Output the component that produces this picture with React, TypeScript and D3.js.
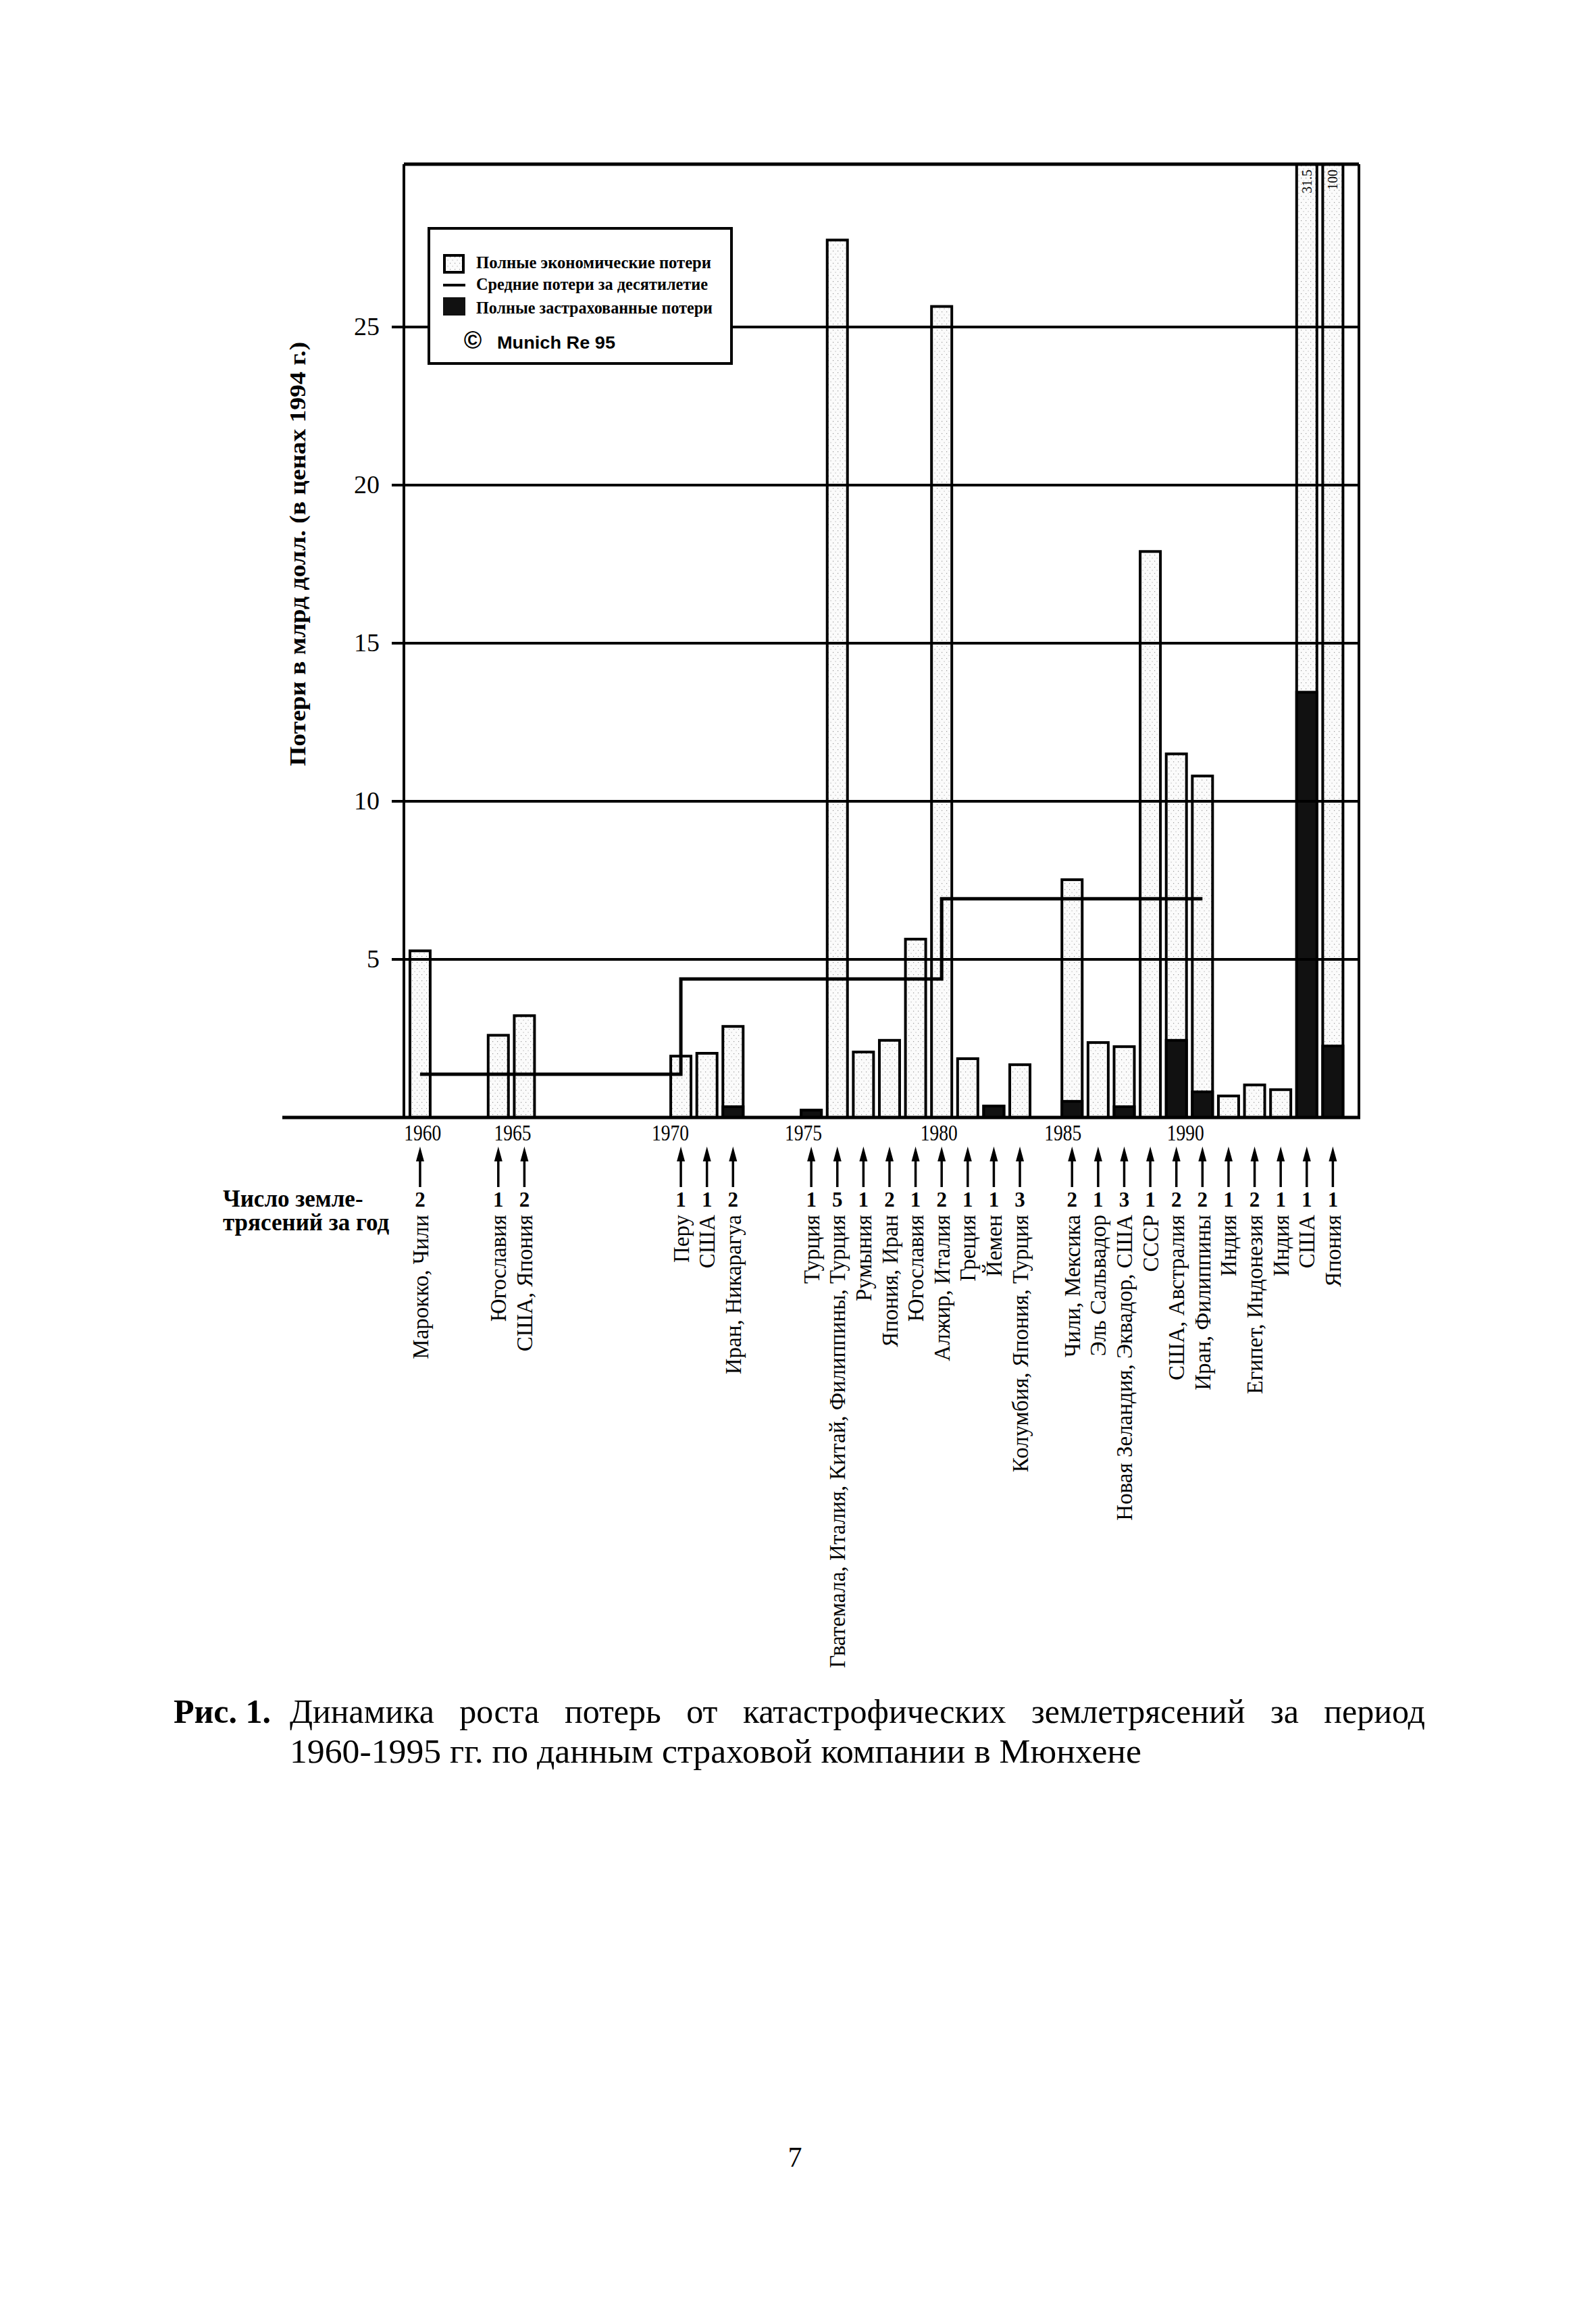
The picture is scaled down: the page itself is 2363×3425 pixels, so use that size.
import React, { useRef, useLayoutEffect } from 'react';
import * as d3 from 'd3';

// Earthquake losses, bn USD (1994 prices), Munich Re 95
const years = [1960, 1963, 1964, 1970, 1971, 1972, 1975, 1976, 1977, 1978, 1979, 1980, 1981, 1982, 1983, 1985, 1986, 1987, 1988, 1989, 1990, 1991, 1992, 1993, 1994, 1995];
const totalLoss = [5.27, 2.6, 3.22, 1.94, 2.03, 2.88, 0.23, 27.75, 2.07, 2.44, 5.64, 25.65, 1.86, 0.36, 1.67, 7.52, 2.37, 2.24, 17.9, 11.5, 10.8, 0.68, 1.03, 0.88, 31.5, 100];
const insuredLoss = [0, 0, 0, 0, 0, 0.34, 0.23, 0, 0, 0, 0, 0, 0, 0.36, 0, 0.51, 0, 0.34, 0, 2.44, 0.81, 0, 0, 0, 13.45, 2.26];
const quakeCounts = [2, 1, 2, 1, 1, 2, 1, 5, 1, 2, 1, 2, 1, 1, 3, 2, 1, 3, 1, 2, 2, 1, 2, 1, 1, 1];
const countries = [
  'Марокко, Чили', 'Югославия', 'США, Япония', 'Перу', 'США', 'Иран, Никарагуа',
  'Турция', 'Гватемала, Италия, Китай, Филиппины, Турция', 'Румыния', 'Япония, Иран',
  'Югославия', 'Алжир, Италия', 'Греция', 'Йемен', 'Колумбия, Япония, Турция',
  'Чили, Мексика', 'Эль Сальвадор', 'Новая Зеландия, Эквадор, США', 'СССР',
  'США, Австралия', 'Иран, Филиппины', 'Индия', 'Египет, Индонезия', 'Индия', 'США', 'Япония',
];

const decadeStarts = [1960, 1970, 1980, 1990];
const decadeAvg = [1.37, 4.38, 6.92];

const yTicks = [5, 10, 15, 20, 25];
const yTop = 30.15;
const yearLabels = ['1960', '1965', '1970', '1975', '1980', '1985', '1990'];
const yearLabelAt = [1960.1, 1963.55, 1969.6, 1974.7, 1979.9, 1984.65, 1989.35];

const legendItems = ['Полные экономические потери', 'Средние потери за десятилетие', 'Полные застрахованные потери'];
const yTitle = 'Потери в млрд долл. (в ценах 1994 г.)';
const countLabel = ['Число земле-', 'трясений за год'];
const captionHead = 'Рис. 1.';
const captionLine1 = 'Динамика роста потерь от катастрофических землетрясений за период';
const captionLine2 = '1960-1995 гг. по данным страховой компании в Мюнхене';
const pageNumber = '7';

const W = 2363;
const H = 3425;
const serif = '"Liberation Serif", "Times New Roman", serif';
const sans = '"Liberation Sans", Arial, sans-serif';

const App: React.FC = () => {
  const captionRef = useRef<SVGTextElement>(null);
  const captionWidth = 1681;

  // justify caption line 1 by widening word gaps only
  useLayoutEffect(() => {
    const el = captionRef.current;
    if (!el) return;
    el.setAttribute('word-spacing', '0');
    const natural = el.getComputedTextLength();
    const gaps = captionLine1.split(' ').length - 1;
    if (gaps > 0 && natural < captionWidth) {
      el.setAttribute('word-spacing', String((captionWidth - natural) / gaps));
    }
  }, []);

  const x = d3.scaleLinear().domain([1959.38, 1996.0]).range([598, 2012]);
  const y = d3.scaleLinear().domain([0, 25]).range([1654, 484]);
  const yc = (v: number) => y(Math.min(v, yTop));

  const left = x.range()[0];
  const right = x.range()[1];
  const top = y(yTop);
  const base = y(0);
  const barW = 30;

  const avgPoints: [number, number][] = decadeStarts.map((d, i) => [d, decadeAvg[Math.min(i, decadeAvg.length - 1)]]);
  const avgLine = d3.line<[number, number]>()
    .x(d => x(d[0]))
    .y(d => y(d[1]))
    .curve(d3.curveStepAfter)(avgPoints) || '';

  const legend = { x: 635, y: 338, w: 448, h: 200 };

  const arrowTip = 1697;
  const arrowEnd = 1757;

  return (
    <div style={{ position: 'absolute', left: 0, top: 0 }}>
      <svg width={W} height={H} style={{ display: 'block', background: '#fff' }}>
        <defs>
          <pattern id="stipple" width="7" height="9" patternUnits="userSpaceOnUse">
            <rect width="7" height="9" fill="#fbfbfb" />
            <rect x="1" y="2" width="1.2" height="1.2" fill="#9a9a9a" />
            <rect x="4.5" y="6.5" width="1.2" height="1.2" fill="#b5b5b5" />
          </pattern>
        </defs>

        {/* bars */}
        {years.map((yr, i) => {
          const cx = x(yr);
          const t = yc(totalLoss[i]);
          return (
            <g key={yr}>
              <rect x={cx - barW / 2} y={t} width={barW} height={base - t}
                fill="url(#stipple)" stroke="#000" strokeWidth={4} />
              {insuredLoss[i] > 0 && (
                <rect x={cx - barW / 2} y={yc(insuredLoss[i])} width={barW}
                  height={base - yc(insuredLoss[i])} fill="#111" stroke="#000" strokeWidth={4} />
              )}
              {totalLoss[i] > yTop && (
                <text transform={`translate(${cx},${top + 8}) rotate(-90)`} textAnchor="end" dy="0.35em"
                  fontFamily={serif} fontSize={20}>{String(totalLoss[i])}</text>
              )}
            </g>
          );
        })}

        {/* grid lines */}
        {yTicks.map(t => (
          <g key={t}>
            <line x1={580} x2={right} y1={y(t)} y2={y(t)} stroke="#000" strokeWidth={4} />
            <text x={562} y={y(t) + 12} textAnchor="end" fontFamily={serif} fontSize={38}>{t}</text>
          </g>
        ))}

        {/* decade averages */}
        <path d={avgLine} fill="none" stroke="#000" strokeWidth={5} strokeLinejoin="miter" />

        {/* frame */}
        <line x1={left} x2={left} y1={top} y2={base} stroke="#000" strokeWidth={4} />
        <line x1={left} x2={right} y1={top} y2={top} stroke="#000" strokeWidth={5} />
        <line x1={right} x2={right} y1={top} y2={base} stroke="#000" strokeWidth={4} />
        <line x1={418} x2={right + 2} y1={base} y2={base} stroke="#000" strokeWidth={5} />

        {/* legend */}
        <rect x={legend.x} y={legend.y} width={legend.w} height={legend.h} fill="#fff" stroke="#000" strokeWidth={4} />
        <rect x={legend.x + 23} y={legend.y + 40} width={28} height={25} fill="url(#stipple)" stroke="#000" strokeWidth={4} />
        <line x1={legend.x + 21} x2={legend.x + 54} y1={legend.y + 84} y2={legend.y + 84} stroke="#000" strokeWidth={4} />
        <rect x={legend.x + 21} y={legend.y + 102} width={33} height={27} fill="#111" />
        {legendItems.map((s, i) => (
          <text key={s} x={legend.x + 70} y={legend.y + [59, 91, 126][i]} fontFamily={serif} fontWeight="bold"
            fontSize={25} textLength={[348, 343, 350][i]} lengthAdjust="spacingAndGlyphs">{s}</text>
        ))}
        <text x={legend.x + 65} y={legend.y + 178} textAnchor="middle" fontFamily={sans} fontWeight="bold" fontSize={36}>©</text>
        <text x={legend.x + 101} y={legend.y + 178} fontFamily={sans} fontWeight="bold" fontSize={25}
          textLength={175} lengthAdjust="spacingAndGlyphs">Munich Re 95</text>

        {/* y axis title */}
        <text transform={`translate(452,820) rotate(-90)`} textAnchor="middle" fontFamily={serif}
          fontWeight="bold" fontSize={34} textLength={628} lengthAdjust="spacingAndGlyphs">{yTitle}</text>

        {/* year labels */}
        {yearLabels.map((s, i) => (
          <text key={s} x={x(yearLabelAt[i])} y={1688} textAnchor="middle" fontFamily={serif} fontSize={34}
            textLength={55} lengthAdjust="spacingAndGlyphs">{s}</text>
        ))}

        {/* arrows, counts, countries */}
        {years.map((yr, i) => {
          const cx = x(yr);
          return (
            <g key={`a${yr}`}>
              <line x1={cx} x2={cx} y1={arrowTip + 14} y2={arrowEnd} stroke="#000" strokeWidth={3.5} />
              <path d={`M${cx},${arrowTip} L${cx - 6},${arrowTip + 22} L${cx + 6},${arrowTip + 22} Z`} fill="#000" />
              <text x={cx} y={1786} textAnchor="middle" fontFamily={serif} fontWeight="bold" fontSize={31}>{quakeCounts[i]}</text>
              <text transform={`translate(${cx},1798) rotate(-90)`} textAnchor="end" dy="0.35em"
                fontFamily={serif} fontSize={33}>{countries[i]}</text>
            </g>
          );
        })}

        {/* count label */}
        {countLabel.map((s, i) => (
          <text key={s} x={330} y={1786 + i * 35} fontFamily={serif} fontWeight="bold" fontSize={35}>{s}</text>
        ))}

        {/* caption */}
        <text x={257} y={2550} fontFamily={serif} fontWeight="bold" fontSize={50}>{captionHead}</text>
        <text ref={captionRef} x={429} y={2550} fontFamily={serif} fontSize={50}>{captionLine1}</text>
        <text x={429} y={2609} fontFamily={serif} fontSize={50} textLength={1261} lengthAdjust="spacingAndGlyphs">{captionLine2}</text>

        <text x={1177} y={3207} textAnchor="middle" fontFamily={serif} fontSize={42}>{pageNumber}</text>
      </svg>
    </div>
  );
};

export default App;
